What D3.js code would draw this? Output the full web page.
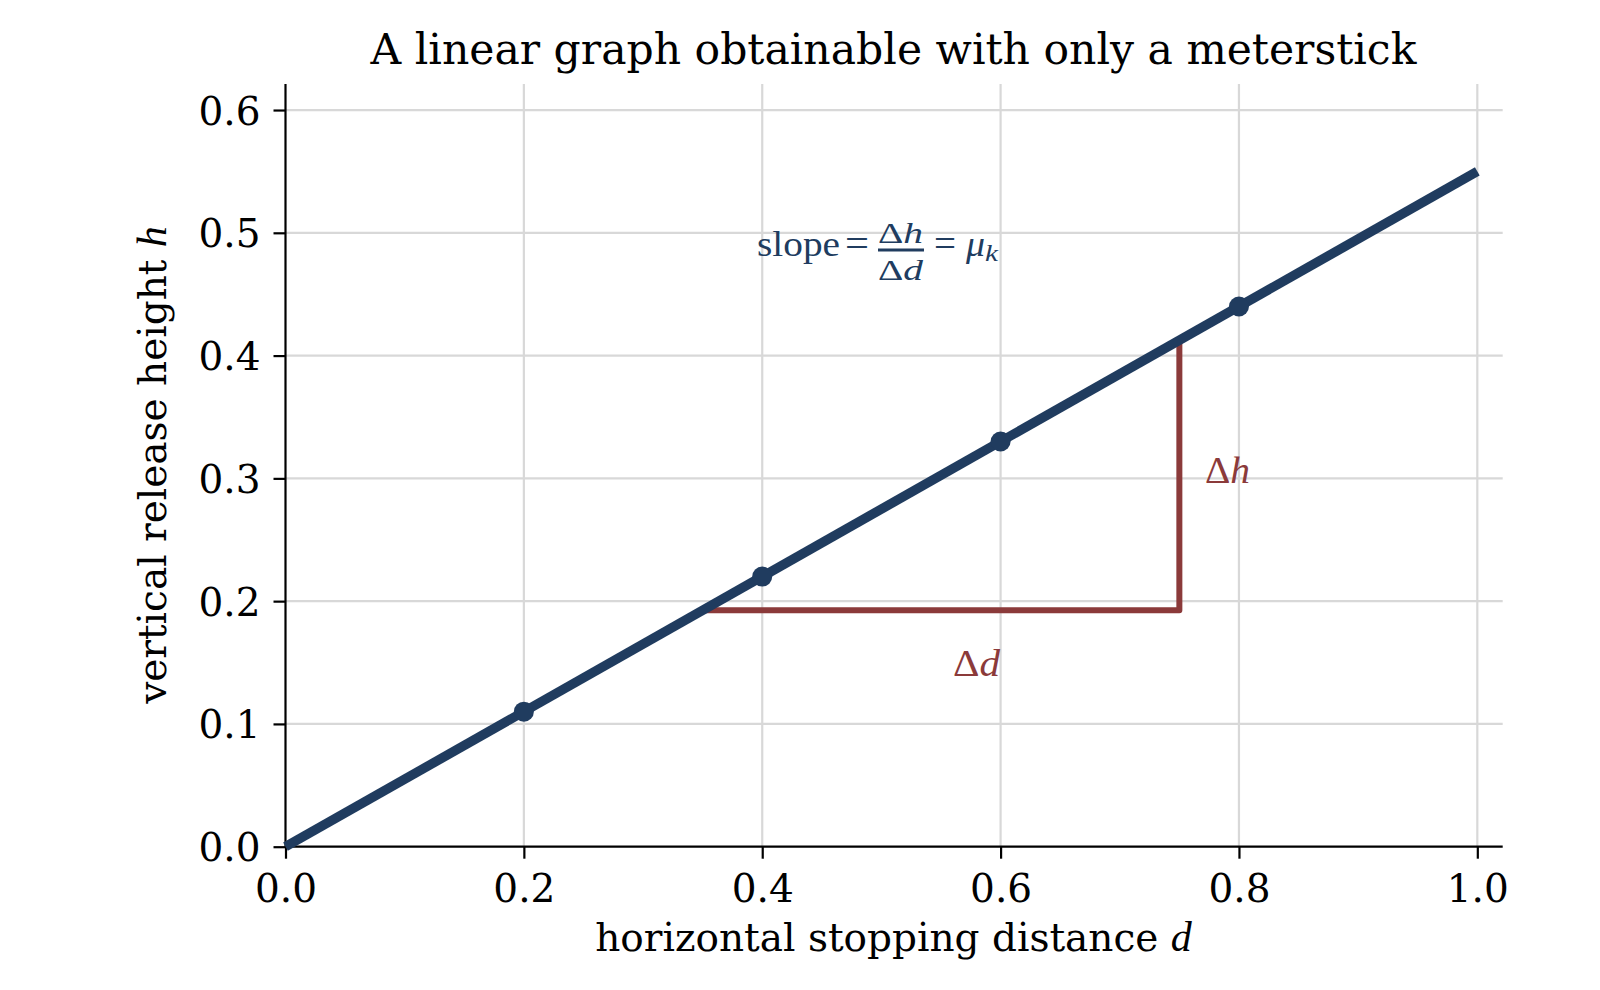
<!DOCTYPE html>
<html><head><meta charset="utf-8">
<script src="https://cdn.jsdelivr.net/npm/d3@7"></script>
<style>body{margin:0;background:#fff}</style>
</head><body>
<svg id="c" width="1600" height="990"></svg>
<script>
const lineX = [0, 1.0];
const lineY = [0, 0.55];
const ptX = [0.2, 0.4, 0.6, 0.8];
const ptY = [0.11, 0.22, 0.33, 0.44];
const triD = [0.35, 0.75];
const triH = [0.1925, 0.4125];
const xTicks = [0.0, 0.2, 0.4, 0.6, 0.8, 1.0];
const yTicks = [0.0, 0.1, 0.2, 0.3, 0.4, 0.5, 0.6];
const xDomain = [0, 1.0213];
const yDomain = [0, 0.6212];

const navy = "#203c5f", red = "#8b3a3a";
const serif = "'DejaVu Serif', serif";
const math = "'Liberation Serif', 'Times New Roman', serif";
const svg = d3.select("#c");
const x = d3.scaleLinear().domain(xDomain).range([285.5, 1502.7]);
const y = d3.scaleLinear().domain(yDomain).range([846.7, 84]);

// grid
const g = svg.append("g");
g.selectAll(".gx").data(xTicks.slice(1)).join("line")
  .attr("x1", d => x(d)).attr("x2", d => x(d)).attr("y1", y.range()[0]).attr("y2", y.range()[1])
  .attr("stroke", "#d8d8d8").attr("stroke-width", 2.2);
g.selectAll(".gy").data(yTicks.slice(1)).join("line")
  .attr("y1", d => y(d)).attr("y2", d => y(d)).attr("x1", x.range()[0]).attr("x2", x.range()[1])
  .attr("stroke", "#d8d8d8").attr("stroke-width", 2.2);

// axes
const xAxis = d3.axisBottom(x).tickValues(xTicks).tickFormat(d3.format(".1f")).tickSize(12).tickPadding(10);
const yAxis = d3.axisLeft(y).tickValues(yTicks).tickFormat(d3.format(".1f")).tickSize(12).tickPadding(10);
const gx = svg.append("g").attr("transform", `translate(0,${y(0)})`).call(xAxis);
const gy = svg.append("g").attr("transform", `translate(${x(0)},0)`).call(yAxis);
[gx, gy].forEach(a => {
  a.select(".domain").remove();
  a.selectAll(".tick line").attr("stroke", "#000").attr("stroke-width", 2.2);
  a.selectAll(".tick text").attr("fill", "#000").attr("font-family", serif).attr("font-size", 39);
});
svg.append("line").attr("x1", x.range()[0]).attr("x2", x.range()[1]).attr("y1", y(0)).attr("y2", y(0))
  .attr("stroke", "#000").attr("stroke-width", 2.2);
svg.append("line").attr("x1", x(0)).attr("x2", x(0)).attr("y1", y.range()[0]).attr("y2", y.range()[1])
  .attr("stroke", "#000").attr("stroke-width", 2.2);
gx.selectAll(".tick text").attr("y", 22).attr("dy", 33);
gy.selectAll(".tick text").attr("x", -25).attr("dy", "0.36em");

// triangle
svg.append("path")
  .attr("d", d3.line()([[x(triD[0]), y(triH[0])], [x(triD[1]), y(triH[0])], [x(triD[1]), y(triH[1])]]))
  .attr("fill", "none").attr("stroke", red).attr("stroke-width", 6).attr("stroke-linejoin", "round");

// fit line
svg.append("path")
  .attr("d", d3.line()(lineX.map((v, i) => [x(v), y(lineY[i])])))
  .attr("fill", "none").attr("stroke", navy).attr("stroke-width", 9.5);
svg.selectAll(".pt").data(ptX).join("circle")
  .attr("cx", d => x(d)).attr("cy", (d, i) => y(ptY[i])).attr("r", 10).attr("fill", navy);

// labels
svg.append("text").attr("x", 893.5).attr("y", 64).attr("text-anchor", "middle")
  .attr("font-family", serif).attr("font-size", 42.5).attr("fill", "#000")
  .text("A linear graph obtainable with only a meterstick");
const xl = svg.append("text").attr("x", 893.5).attr("y", 951).attr("text-anchor", "middle")
  .attr("font-family", serif).attr("font-size", 39).attr("fill", "#000");
xl.append("tspan").text("horizontal stopping distance ");
xl.append("tspan").attr("font-family", math).attr("font-style", "italic").attr("font-size", 42).text("d");
const yl = svg.append("text").attr("transform", "translate(166,465) rotate(-90)").attr("text-anchor", "middle")
  .attr("font-family", serif).attr("font-size", 39).attr("fill", "#000");
yl.append("tspan").text("vertical release height ");
yl.append("tspan").attr("font-family", math).attr("font-style", "italic").attr("font-size", 42).text("h");

// helper for math pieces
function mtext(parent, px, py, size, w, parts, color) {
  const t = parent.append("text").attr("x", px).attr("y", py).attr("font-family", math)
    .attr("font-size", size).attr("fill", color);
  if (w) t.attr("textLength", w).attr("lengthAdjust", "spacingAndGlyphs");
  parts.forEach(p => t.append("tspan").attr("font-style", p[1] ? "italic" : "normal").text(p[0]));
  return t;
}

// delta labels
mtext(svg, 1205, 483, 38, 45, [["Δ", 0], ["h", 1]], red);
mtext(svg, 953, 676, 38, 47, [["Δ", 0], ["d", 1]], red);

// slope formula
const sg = svg.append("g");
mtext(sg, 757, 256, 35, 83, [["slope", 0]], navy);
mtext(sg, 845, 256, 38, 24, [["=", 0]], navy);
mtext(sg, 878, 243, 29, 45, [["Δ", 0], ["h", 1]], navy);
sg.append("rect").attr("x", 878).attr("y", 248.5).attr("width", 46).attr("height", 3).attr("fill", navy);
mtext(sg, 878, 280, 29, 45, [["Δ", 0], ["d", 1]], navy);
mtext(sg, 934, 256, 38, 22, [["=", 0]], navy);
mtext(sg, 966, 256, 35, 19, [["μ", 1]], navy);
mtext(sg, 985, 261, 24, 13, [["k", 1]], navy);
</script>
</body></html>
